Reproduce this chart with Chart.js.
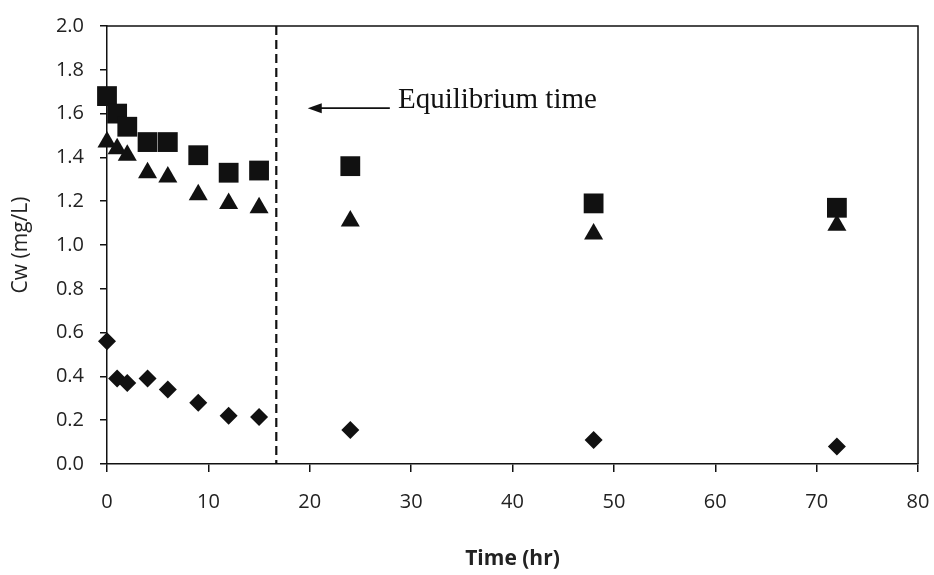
<!DOCTYPE html>
<html lang="en">
<head>
  <meta charset="UTF-8" />
  <title>Cw vs Time</title>
  <script src="https://cdn.jsdelivr.net/npm/chart.js"></script>
  <style>
    body { margin: 0; background: #fff; }
    #cwChart { display: block; }
  </style>
</head>
<body>
  <canvas id="cwChart" width="934" height="575"></canvas>

  <script>
    // sampling times (hr)
    const times = [0, 1, 2, 4, 6, 9, 12, 15, 24, 48, 72];
    // Cw values (mg/L)
    const squareVals   = [1.68, 1.60, 1.54, 1.47, 1.47, 1.41, 1.33, 1.34, 1.36, 1.19, 1.17];
    const triangleVals = [1.47, 1.44, 1.41, 1.33, 1.31, 1.23, 1.19, 1.17, 1.11, 1.05, 1.09];
    const diamondVals  = [0.56, 0.39, 0.37, 0.39, 0.34, 0.28, 0.22, 0.215, 0.155, 0.11, 0.08];

    const xTicks = [0, 10, 20, 30, 40, 50, 60, 70, 80];
    const yTicks = [0, 0.2, 0.4, 0.6, 0.8, 1.0, 1.2, 1.4, 1.6, 1.8, 2.0];

    const equilibriumTime = 16.7;
    const noteText = 'Equilibrium time';
    const arrowFrom = { x: 27.9, y: 1.625 };
    const arrowTo = { x: 19.8, y: 1.625 };
    const notePos = { x: 28.7, y: 1.66 };

    const toPoints = vals => times.map((t, i) => ({ x: t, y: vals[i] }));

    // frame, dashed equilibrium line and the arrow note
    const extras = {
      id: 'extras',
      afterDatasetsDraw(chart) {
        const { ctx, chartArea: a, scales: { x, y } } = chart;
        ctx.save();
        ctx.strokeStyle = '#111';
        ctx.lineWidth = 1.5;
        ctx.beginPath();
        ctx.moveTo(a.left, a.top);
        ctx.lineTo(a.right, a.top);
        ctx.lineTo(a.right, a.bottom);
        ctx.stroke();

        const ex = x.getPixelForValue(equilibriumTime);
        ctx.lineWidth = 2.2;
        ctx.setLineDash([9, 5]);
        ctx.beginPath();
        ctx.moveTo(ex, a.top);
        ctx.lineTo(ex, a.bottom);
        ctx.stroke();
        ctx.setLineDash([]);

        const x1 = x.getPixelForValue(arrowFrom.x), x2 = x.getPixelForValue(arrowTo.x);
        const ay = y.getPixelForValue(arrowFrom.y);
        ctx.lineWidth = 1.8;
        ctx.beginPath();
        ctx.moveTo(x1, ay);
        ctx.lineTo(x2 + 8, ay);
        ctx.stroke();
        ctx.fillStyle = '#111';
        ctx.beginPath();
        ctx.moveTo(x2, ay);
        ctx.lineTo(x2 + 14, ay - 5);
        ctx.lineTo(x2 + 14, ay + 5);
        ctx.closePath();
        ctx.fill();

        ctx.font = '29px "Liberation Serif", serif';
        ctx.textBaseline = 'middle';
        ctx.fillText(noteText, x.getPixelForValue(notePos.x), y.getPixelForValue(notePos.y));
        ctx.restore();
      }
    };

    const tickFont = { family: '"Open Sans", sans-serif', size: 20 };

    new Chart(document.getElementById('cwChart'), {
      type: 'scatter',
      data: {
        datasets: [
          { label: 'square', data: toPoints(squareVals), pointStyle: 'rect', pointRadius: 14, clip: false,
            backgroundColor: '#111', borderColor: '#111', borderWidth: 0 },
          { label: 'triangle', data: toPoints(triangleVals), pointStyle: 'triangle', pointRadius: 11, clip: false,
            backgroundColor: '#111', borderColor: '#111', borderWidth: 0 },
          { label: 'diamond', data: toPoints(diamondVals), pointStyle: 'rectRot', pointRadius: 9, clip: false,
            backgroundColor: '#111', borderColor: '#111', borderWidth: 0 }
        ]
      },
      options: {
        responsive: false,
        animation: false,
        layout: { autoPadding: false, padding: { top: 26, right: 16, left: 0, bottom: 0 } },
        plugins: { legend: { display: false }, tooltip: { enabled: false } },
        scales: {
          x: {
            type: 'linear',
            min: 0, max: 80,
            afterBuildTicks: s => { s.ticks = xTicks.map(v => ({ value: v })); },
            afterFit: s => { s.height = 111; s.paddingRight = 0; s.paddingLeft = 0; },
            grid: { display: true, drawOnChartArea: false, tickLength: 8, color: '#111', lineWidth: 1.5 },
            border: { color: '#111', width: 1.5 },
            ticks: { font: tickFont, color: '#222', padding: 18 },
            title: { display: true, text: 'Time (hr)', color: '#222', padding: { top: 4, bottom: 3 },
              font: { family: '"Open Sans", sans-serif', size: 21, weight: 'bold' } }
          },
          y: {
            min: 0, max: 2,
            afterBuildTicks: s => { s.ticks = yTicks.map(v => ({ value: v })); },
            afterFit: s => { s.width = 107; s.paddingTop = 0; s.paddingBottom = 0; },
            grid: { display: true, drawOnChartArea: false, tickLength: 7, color: '#111', lineWidth: 1.5 },
            border: { color: '#111', width: 1.5 },
            ticks: { font: tickFont, color: '#222', padding: 16, callback: v => v.toFixed(1) },
            title: { display: true, text: 'Cw (mg/L)', color: '#222', padding: { top: 8, bottom: 4 },
              font: { family: '"Open Sans", sans-serif', size: 21 } }
          }
        }
      },
      plugins: [extras]
    });
  </script>
</body>
</html>
